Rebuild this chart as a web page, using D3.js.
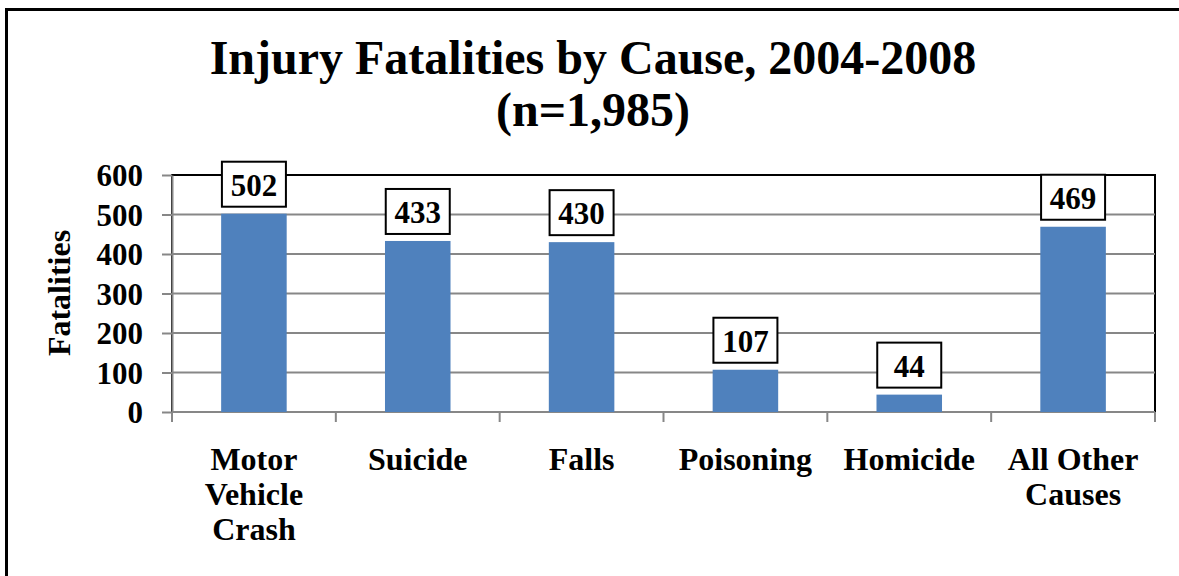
<!DOCTYPE html>
<html>
<head>
<meta charset="utf-8">
<script src="https://cdn.jsdelivr.net/npm/d3@7"></script>
<style>
  body { margin: 0; background: #fff; }
</style>
</head>
<body>
<div id="chart"></div>
<script>
const BAR_COLOR = "#4F81BD"
const GRID_COLOR = "#878787"
const FONT = "'Liberation Serif', 'Times New Roman', serif"

const causes = ["Motor Vehicle Crash", "Suicide", "Falls", "Poisoning", "Homicide", "All Other Causes"]
const causeLines = [["Motor", "Vehicle", "Crash"], ["Suicide"], ["Falls"], ["Poisoning"], ["Homicide"], ["All Other", "Causes"]]
const fatalities = [502, 433, 430, 107, 44, 469]
const yTicks = [0, 100, 200, 300, 400, 500, 600]

let width = 1179, height = 576;
let plotLeft = 172, plotRight = 1155, plotTop = 175, plotBottom = 412;

let svg = d3.select("#chart").append("svg").attr("width", width).attr("height", height)
    .style("font-family", FONT).style("font-weight", "bold");

// outer chart border (runs off right/bottom edge like the original)
svg.append("rect").attr("x", 6.5).attr("y", 9.5).attr("width", 1200).attr("height", 600)
    .attr("fill", "none").attr("stroke", "#000").attr("stroke-width", 3);

// title
svg.append("text").attr("x", 593).attr("y", 74).attr("text-anchor", "middle")
    .style("font-size", "48px").text("Injury Fatalities by Cause, 2004-2008");
svg.append("text").attr("x", 593).attr("y", 126).attr("text-anchor", "middle")
    .style("font-size", "48px").text("(n=1,985)");

let x = d3.scaleBand().domain(causes).range([plotLeft, plotRight]).paddingInner(0.6).paddingOuter(0.3);
let y = d3.scaleLinear().domain([0, 600]).range([plotBottom, plotTop]);

// plot area border
svg.append("rect").attr("x", plotLeft).attr("y", plotTop).attr("width", plotRight - plotLeft).attr("height", plotBottom - plotTop)
    .attr("fill", "none").attr("stroke", "#000").attr("stroke-width", 2);

// gridlines
svg.append("g").selectAll("line").data(yTicks.filter(d => d > 0 && d < 600)).join("line")
    .attr("x1", plotLeft).attr("x2", plotRight).attr("y1", d => y(d)).attr("y2", d => y(d))
    .attr("stroke", GRID_COLOR).attr("stroke-width", 2);

// y axis
let yAxis = svg.append("g").attr("transform", `translate(${plotLeft},0)`)
    .call(d3.axisLeft(y).tickValues(yTicks).tickSize(10).tickPadding(19).tickSizeOuter(0));
yAxis.attr("font-family", null).attr("font-size", null);
yAxis.select(".domain").attr("stroke", GRID_COLOR).attr("stroke-width", 2);
yAxis.selectAll(".tick line").attr("stroke", GRID_COLOR).attr("stroke-width", 2);
yAxis.selectAll(".tick text").style("font-size", "31px").attr("fill", "#000").attr("dy", "0.34em");

// x axis line and ticks at band boundaries
let boundaries = d3.range(causes.length + 1).map(i => plotLeft + i * (plotRight - plotLeft) / causes.length);
svg.append("line").attr("x1", plotLeft).attr("x2", plotRight).attr("y1", plotBottom).attr("y2", plotBottom)
    .attr("stroke", GRID_COLOR).attr("stroke-width", 2);
svg.append("g").selectAll("line").data(boundaries).join("line")
    .attr("x1", d => d).attr("x2", d => d).attr("y1", plotBottom).attr("y2", plotBottom + 10)
    .attr("stroke", GRID_COLOR).attr("stroke-width", 2);

// bars
svg.append("g").selectAll("rect").data(fatalities).join("rect")
    .attr("x", (d, i) => x(causes[i])).attr("width", x.bandwidth())
    .attr("y", d => y(d)).attr("height", d => plotBottom - y(d))
    .attr("fill", BAR_COLOR);

// data labels
let labels = svg.append("g").selectAll("g").data(fatalities).join("g")
    .attr("transform", (d, i) => `translate(${x(causes[i]) + x.bandwidth() / 2},${y(d) - 7})`);
labels.append("rect").attr("x", -32).attr("y", -45).attr("width", 64).attr("height", 45)
    .attr("fill", "#fff").attr("stroke", "#000").attr("stroke-width", 2);
labels.append("text").attr("y", -11).attr("text-anchor", "middle").style("font-size", "31px")
    .text(d => d);

// category labels
let cats = svg.append("g").selectAll("text").data(causeLines).join("text")
    .attr("text-anchor", "middle").style("font-size", "32px")
    .attr("transform", (d, i) => `translate(${x(causes[i]) + x.bandwidth() / 2},470)`);
cats.selectAll("tspan").data(d => d).join("tspan")
    .attr("x", 0).attr("y", (d, i) => i * 35).text(d => d);

// y axis title
svg.append("text").attr("transform", "translate(70,293) rotate(-90)")
    .attr("text-anchor", "middle").style("font-size", "32px").text("Fatalities");
</script>
</body>
</html>
